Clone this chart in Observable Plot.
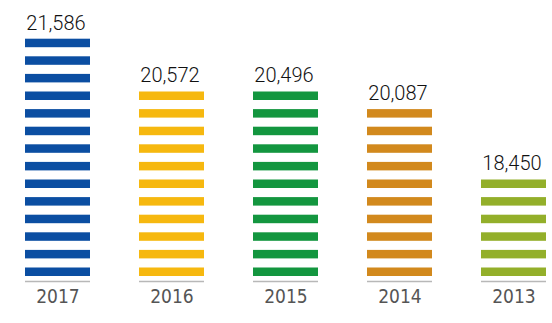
<!DOCTYPE html>
<html>
<head>
<meta charset="utf-8">
<script src="https://cdn.jsdelivr.net/npm/d3@7"></script>
<script src="https://cdn.jsdelivr.net/npm/@observablehq/plot@0.6"></script>
<style>
  html, body { margin: 0; padding: 0; background: #ffffff; }
  #chart { width: 552px; height: 323px; }
</style>
</head>
<body>
<div id="chart"></div>
<script>
const years = ["2017", "2016", "2015", "2014", "2013"];
const values = [21586, 20572, 20496, 20087, 18450];
const colors = ["#0b4ea2", "#f6b80f", "#13963f", "#d2891d", "#93af2a"];

// axis setup: baseline value and value per stripe
const base = 16098;
const unit = 392;
const stripeFrac = 8.5 / 17.6;

const bars = years.map((y, i) => ({year: y, value: values[i], color: colors[i]}));
const stripes = bars.flatMap(b => {
  const n = Math.round((b.value - base) / unit);
  return d3.range(n).map(k => ({
    year: b.year,
    color: b.color,
    y1: base + k * unit,
    y2: base + k * unit + unit * stripeFrac,
    top: k === n - 1
  }));
});
const tops = stripes.filter(s => s.top).map(s => ({...s, label: d3.format(",")(bars.find(b => b.year === s.year).value)}));

const chart = Plot.plot({
  width: 552,
  height: 323,
  marginTop: 29.6,
  marginBottom: 47,
  marginLeft: 0,
  marginRight: 0,
  x: {domain: years, range: [-0.6, 570.6], paddingInner: 0.43, paddingOuter: 0.215, axis: null},
  y: {domain: [base, 21586], axis: null},
  marks: [
    Plot.rectY(stripes, {x: "year", y1: "y1", y2: "y2", fill: "color"}),
    Plot.tickY(bars, {x: "year", y: () => base, dy: 5, stroke: "#b8b8b8", strokeWidth: 1.5}),
    Plot.text(tops, {x: "year", y: "y2", text: "label", dy: -16, dx: -2, fontSize: 20, fontWeight: 300, fill: "#111", fontFamily: "Roboto"}),
    Plot.text(bars, {x: "year", y: () => base, text: "year", dy: 20, fontSize: 19, fontWeight: "normal", fill: "#555", fontFamily: "'Liberation Sans Narrow', 'DejaVu Sans Condensed', Roboto"})
  ]
});
document.getElementById("chart").append(chart);
</script>
</body>
</html>
